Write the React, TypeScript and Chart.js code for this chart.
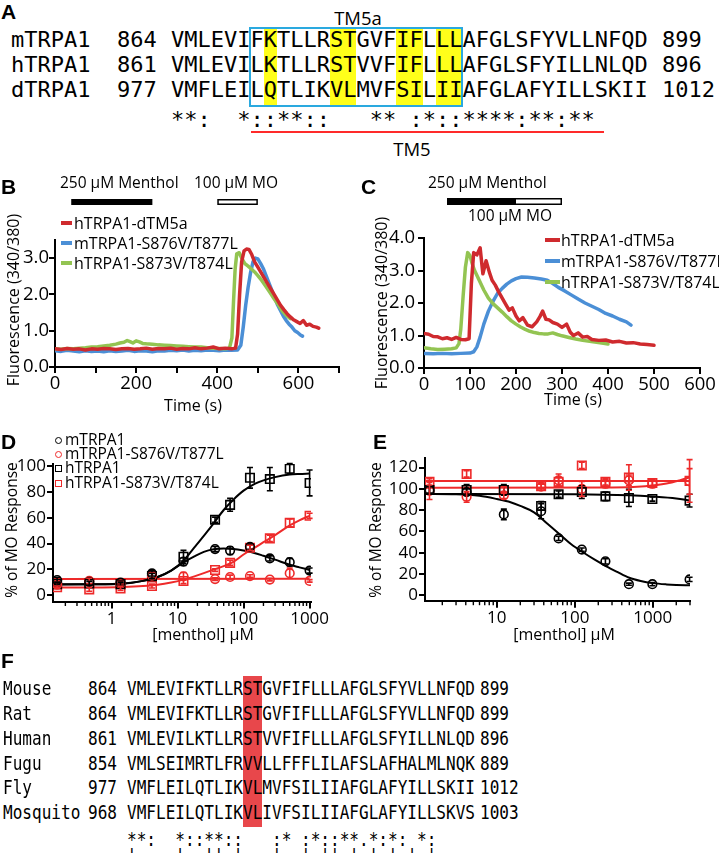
import React, { useEffect, useRef } from "react";
import { Chart, registerables } from "chart.js";
Chart.register(...registerables);

const SANS = "'Open Sans', 'Liberation Sans', sans-serif";
const MONO = "'DejaVu Sans Mono', 'Liberation Mono', monospace";
const BOLD = "'Liberation Sans', Arial, sans-serif";

const RED_T = "#cf2a2e";
const BLUE_T = "#4b8fd6";
const GREEN_T = "#93c452";
const RED_D = "#ee2a2a";
const BLACK = "#000000";

// ---------------- Panel A (alignment) ----------------
const aNames = ["mTRPA1", "hTRPA1", "dTRPA1"];
const aStart = ["864", "861", "977"];
const aSeqs = [
  "VMLEVIFKTLLRSTGVFIFLLLAFGLSFYVLLNFQD",
  "VMLEVILKTLLRSTVVFIFLLLAFGLSFYILLNLQD",
  "VMFLEILQTLIKVLMVFSILIIAFGLAFYILLSKII",
];
const aEnd = ["899", "896", "1012"];
const aCons = "**:  *::**::   ** :*::****:**:**";
const aYellow = [7, 12, 13, 17, 18, 20, 21];

// ---------------- Panel F (alignment) ----------------
const fNames = ["Mouse", "Rat", "Human", "Fugu", "Fly", "Mosquito"];
const fStart = ["864", "864", "861", "854", "977", "968"];
const fSeqs = [
  "VMLEVIFKTLLRSTGVFIFLLLAFGLSFYVLLNFQD",
  "VMLEVIFKTLLRSTGVFIFLLLAFGLSFYVLLNFQD",
  "VMLEVILKTLLRSTVVFIFLLLAFGLSFYILLNLQD",
  "VMLSEIMRTLFRVVLLFFFLILAFSLAFHALMLNQK",
  "VMFLEILQTLIKVLMVFSILIIAFGLAFYILLSKII",
  "VMFLEILQTLIKVLIVFSILIIAFGLAFYILLSKVS",
];
const fEnd = ["899", "899", "896", "889", "1012", "1003"];
const fCons = "**:  *::**::   :* :*::**.*:*: *:";
const fMarks = "|    |  || |   |  | || | | | | |";
const fRed = [12, 13];

// ---------------- Panel B (traces) ----------------
const bRedT = [0,15,30,45,60,75,90,105,120,135,150,165,180,195,210,225,240,255,270,285,300,315,330,345,360,375,390,405,420,435,445,450,455,460,466,472,478,485,492,500,508,516,524,532,540,548,556,564,572,580,588,596,604,612,620,628,636,644,650];
const bRedY = [0.50,0.48,0.51,0.49,0.50,0.47,0.50,0.49,0.51,0.50,0.48,0.50,0.51,0.49,0.50,0.52,0.49,0.51,0.50,0.52,0.49,0.51,0.50,0.53,0.50,0.52,0.55,0.50,0.52,0.50,0.52,0.9,2.0,2.9,3.2,3.25,3.24,3.1,2.9,2.75,2.6,2.45,2.3,2.15,2.0,1.85,1.7,1.58,1.47,1.38,1.30,1.25,1.20,1.28,1.15,1.18,1.12,1.10,1.07];
const bBlueT = [0,15,30,45,60,75,90,105,120,135,150,165,180,195,210,225,240,255,270,285,300,315,330,345,360,375,390,405,420,435,450,458,464,470,476,482,488,494,500,507,514,521,528,535,542,549,556,563,570,577,584,591,598,605,610];
const bBlueY = [0.45,0.43,0.46,0.44,0.42,0.45,0.43,0.44,0.42,0.45,0.43,0.44,0.46,0.43,0.45,0.44,0.42,0.45,0.44,0.46,0.45,0.47,0.44,0.46,0.45,0.47,0.46,0.45,0.47,0.46,0.47,0.6,1.1,1.7,2.2,2.6,2.9,3.0,2.98,2.85,2.7,2.5,2.3,2.1,1.9,1.7,1.55,1.4,1.28,1.18,1.1,1.0,0.95,0.88,0.85];
const bGreenT = [0,15,30,45,60,75,90,105,120,135,150,160,170,178,185,192,200,208,216,225,240,255,270,285,300,315,330,345,360,375,390,405,420,430,436,440,444,448,454,460,468,476,484,492,500,510,520,530,540,550,560,570,580];
const bGreenY = [0.50,0.49,0.51,0.50,0.52,0.53,0.55,0.56,0.58,0.60,0.63,0.66,0.68,0.73,0.70,0.66,0.72,0.69,0.65,0.64,0.63,0.61,0.60,0.59,0.58,0.57,0.56,0.55,0.55,0.53,0.52,0.51,0.50,0.52,0.8,1.8,2.7,3.12,3.15,3.0,2.85,2.78,2.7,2.62,2.52,2.38,2.22,2.05,1.88,1.72,1.55,1.42,1.33];
const bXTicks = [0, 100, 200, 300, 400, 500, 600, 700];
const bXLabels = [0, 200, 400, 600];
const bYTicks = [0, 1, 2, 3];
const bMenthol = [40, 240];
const bMO = [400, 500];

// ---------------- Panel C (traces) ----------------
const cRedT = [0,10,20,30,40,50,60,70,80,90,98,103,108,115,122,128,135,142,148,155,162,170,178,185,192,200,207,215,225,235,245,252,258,265,272,280,290,300,310,318,325,335,345,355,365,380,395,410,425,440,455,470,485,500];
const cRedY = [1.06,1.04,0.97,0.96,0.90,0.93,0.88,0.94,0.88,0.87,0.90,2.60,3.55,3.48,3.70,2.90,3.30,2.95,2.70,2.55,2.35,2.15,1.95,1.78,1.85,1.60,1.45,1.55,1.32,1.27,1.42,1.58,1.75,1.50,1.48,1.40,1.35,1.25,1.35,1.10,1.00,1.08,0.95,0.97,0.88,0.85,0.86,0.80,0.82,0.77,0.78,0.74,0.72,0.70];
const cGreenT = [0,15,30,45,60,70,76,80,85,90,95,100,105,110,120,130,140,150,160,170,180,190,200,210,220,230,240,250,260,270,280,290,300,315,330,345,360,375,390,400];
const cGreenY = [0.62,0.59,0.57,0.58,0.59,0.62,0.75,1.2,2.2,3.1,3.55,3.45,3.2,3.0,2.7,2.4,2.15,1.98,1.85,1.72,1.58,1.45,1.35,1.26,1.19,1.13,1.09,1.06,1.05,1.05,1.08,1.03,0.99,0.94,0.89,0.85,0.82,0.79,0.76,0.74];
const cBlueT = [0,20,40,60,80,100,108,115,122,130,140,150,160,170,180,190,200,212,225,240,255,268,280,292,305,320,335,350,365,380,395,410,425,440,450];
const cBlueY = [0.45,0.44,0.45,0.44,0.45,0.46,0.5,0.65,0.95,1.35,1.75,2.05,2.3,2.45,2.58,2.68,2.75,2.8,2.79,2.77,2.74,2.7,2.6,2.48,2.38,2.25,2.12,2.0,1.9,1.8,1.68,1.6,1.5,1.42,1.32];
const cXTicks = [0, 100, 200, 300, 400, 500, 600];
const cXLabels = [0, 100, 200, 300, 400, 500, 600];
const cYTicks = [0, 1, 2, 3, 4];
const cMO = [50, 300];
const cMenthol = [50, 200];

// ---------------- Panel D (dose response, potentiation) ----------------
const dConc = [0.15, 0.46, 1.37, 4.1, 12.3, 37, 62.5, 125, 250, 500, 1000];
const dM = [11.6, 10.3, 9.6, 16.8, 26, 35.7, 34.5, 37.5, 28.4, 25.5, 19];
const dMErr = [2, 1.5, 1.5, 2, 3, 2, 3, 2, 2, 3, 2];
const dMmut = [8, 11, 9, 15, 14.5, 12.4, 14, 14.7, 12, 17, 11];
const dMmutErr = [2, 2, 1.5, 2, 3, 1, 1.5, 1, 1, 4, 1];
const dH = [8.5, 9, 8.5, 14.7, 29.7, 58.5, 70, 91, 90, 98, 87];
const dHErr = [1.5, 1.5, 1.5, 2, 5, 2, 5, 8, 9, 4, 10];
const dHmut = [6, 4.4, 5.2, 7, 10.9, 19.4, 25, 36.7, 44, 56, 61.5];
const dHmutErr = [1, 1.5, 1.5, 1.5, 2, 1, 2, 2, 2.5, 3, 2];
const dFitX = [0.13, 0.5, 1.5, 3, 5, 8, 12, 18, 25, 35, 50, 70, 100, 150, 200, 300, 500, 700, 1000];
const dFitH = [8.2, 8.3, 8.8, 11, 14, 19, 26, 37, 46, 55.5, 66, 74, 81, 86.5, 89, 91.5, 93.5, 94, 94.3];
const dFitM = [8.3, 8.4, 9, 11, 14, 19, 25, 30, 33.5, 35.5, 36.2, 35.8, 34.5, 32.5, 30.5, 27.5, 23.5, 21.5, 19.5];
const dFitHmut = [5.8, 5.9, 6.3, 7, 8, 9.7, 11.8, 14.5, 17, 19.7, 22.5, 25.8, 31.5, 37, 41, 46.5, 54, 58, 61.5];
const dFitMmutX = [0.13, 1000];
const dFitMmut = [12.4, 12.6];
const dXLabels = [1, 10, 100, 1000];
const dXDecades = [0.1, 1, 10, 100, 1000];
const dYTicks = [0, 20, 40, 60, 80, 100];

// ---------------- Panel E (dose response, inhibition) ----------------
const eConc = [1.37, 4.1, 12.3, 37, 62, 123, 247, 494, 988, 2963];
const eM = [99, 97, 76, 79, 53.5, 43, 32, 10.5, 10.5, 15];
const eMErr = [3, 3, 5, 7, 2, 1.5, 2.5, 1, 1.5, 2];
const eH = [99, 99, 99, 84, 95, 97, 93, 91.5, 90.5, 89];
const eHErr = [4, 5, 5, 4, 3, 6, 4, 8, 2, 6];
const eMmut = [98, 92.5, 94, 102, 108, 100, 105, 108, 105, 107];
const eMmutErr = [8, 5, 3, 3, 6, 7, 4, 5, 4, 12];
const eHmut = [106.6, 114, 99, 102.5, 106.6, 122, 106.6, 110.7, 105.6, 107.5];
const eHmutErr = [3, 3, 3, 2, 4, 3, 3, 12, 3, 20];
const eFitX = [1.2, 3, 6, 10, 15, 20, 30, 45, 65, 90, 130, 180, 250, 350, 500, 700, 1000, 1500, 2000, 3000];
const eFitM = [95.3, 95, 93.5, 90.5, 87.5, 84, 78, 67, 57, 48, 40, 33.5, 27.5, 22, 16.5, 13.5, 11.5, 10.3, 9.8, 9.5];
const eFitHX = [1.2, 100, 500, 1000, 2000, 3000];
const eFitH = [95.3, 95, 94, 92.8, 91, 89];
const eFitMmutX = [1.2, 300, 800, 1500, 2200, 3000];
const eFitMmut = [101, 101.2, 102.5, 105, 108, 111];
const eFitHmutX = [1.2, 3000];
const eFitHmut = [107.5, 107.5];
const eXLabels = [10, 100, 1000];
const eXDecades = [1, 10, 100, 1000];
const eYTicks = [0, 20, 40, 60, 80, 100, 120];

// ---------------- helpers ----------------
const zip = (xs: number[], ys: number[]) => xs.map((x, i) => ({ x, y: ys[i] }));
const minorTicks = (decades: number[], min: number, max: number) => {
  const out: number[] = [];
  decades.forEach((d) => {
    for (let m = 1; m <= 9; m++) {
      const v = +(d * m).toPrecision(6);
      if (v >= min && v <= max) out.push(v);
    }
  });
  return out;
};

const errorBarPlugin = {
  id: "errorBars",
  afterDatasetsDraw(chart: any) {
    const ctx = chart.ctx;
    const xs = chart.scales.x;
    const ys = chart.scales.y;
    chart.data.datasets.forEach((ds: any) => {
      if (!ds.errors) return;
      ctx.save();
      ctx.strokeStyle = ds.borderColor;
      ctx.lineWidth = 1.6;
      ds.data.forEach((p: any, i: number) => {
        const e = ds.errors[i];
        if (!e) return;
        const px = xs.getPixelForValue(p.x);
        const y1 = ys.getPixelForValue(p.y + e);
        const y2 = ys.getPixelForValue(p.y - e);
        ctx.beginPath();
        ctx.moveTo(px, y1);
        ctx.lineTo(px, y2);
        ctx.moveTo(px - 3, y1);
        ctx.lineTo(px + 3, y1);
        ctx.moveTo(px - 3, y2);
        ctx.lineTo(px + 3, y2);
        ctx.stroke();
      });
      ctx.restore();
    });
  },
};

const minorTickPlugin = {
  id: "minorTicks",
  afterDraw(chart: any) {
    const s = chart.scales.x;
    const ctx = chart.ctx;
    const b = chart.chartArea.bottom;
    ctx.save();
    ctx.strokeStyle = "#000";
    ctx.lineWidth = 1.4;
    s.ticks.forEach((t: any) => {
      if (t.major) return;
      const px = s.getPixelForValue(t.value);
      ctx.beginPath();
      ctx.moveTo(px, b);
      ctx.lineTo(px, b + 4.5);
      ctx.stroke();
    });
    ctx.restore();
  },
};

const makeStimPlugin = (bars: { range: number[]; fill: boolean }[], y: number, h: number) => ({
  id: "stim",
  afterDraw(chart: any) {
    const s = chart.scales.x;
    const ctx = chart.ctx;
    ctx.save();
    bars.forEach((b) => {
      const x1 = s.getPixelForValue(b.range[0]);
      const x2 = s.getPixelForValue(b.range[1]);
      if (b.fill) {
        ctx.fillStyle = "#000";
        ctx.fillRect(x1, y, x2 - x1, h);
      } else {
        ctx.fillStyle = "#fff";
        ctx.fillRect(x1, y, x2 - x1, h);
        ctx.strokeStyle = "#000";
        ctx.lineWidth = 1.5;
        ctx.strokeRect(x1 + 0.75, y + 0.75, x2 - x1 - 1.5, h - 1.5);
      }
    });
    ctx.restore();
  },
});

const baseOpts = (padTop: number, padRight: number) => ({
  animation: false,
  responsive: false,
  maintainAspectRatio: false,
  devicePixelRatio: 1,
  events: [],
  layout: { padding: { left: 0, top: padTop, right: padRight, bottom: 0 } },
  plugins: { legend: { display: false }, tooltip: { enabled: false } },
});

function traceConfig(series: any[], o: any) {
  return {
    type: "line",
    data: {
      datasets: series.map((s) => ({
        data: zip(s.t, s.v),
        borderColor: s.c,
        borderWidth: 3.5,
        pointRadius: 0,
        tension: 0,
        fill: false,
        borderJoinStyle: "round",
        borderCapStyle: "round",
      })),
    },
    options: {
      ...baseOpts(o.padTop, o.padRight),
      scales: {
        x: {
          type: "linear",
          min: o.xMin,
          max: o.xMax,
          afterBuildTicks: (s: any) => {
            s.ticks = o.xTicks.map((v: number) => ({ value: v }));
          },
          afterFit: (s: any) => {
            s.height = o.xHeight;
          },
          ticks: {
            autoSkip: false,
            maxRotation: 0,
            padding: 0,
            color: "#000",
            font: { family: SANS, size: 18.5 },
            callback: (v: any) => (o.xLabels.includes(v) ? String(v) : ""),
          },
          grid: { drawOnChartArea: false, tickLength: 6, color: "#000", lineWidth: 2 },
          border: { color: "#000", width: 2 },
        },
        y: {
          type: "linear",
          min: 0,
          max: o.yMax,
          afterBuildTicks: (s: any) => {
            s.ticks = o.yTicks.map((v: number) => ({ value: v }));
          },
          afterFit: (s: any) => {
            s.width = o.yWidth;
          },
          ticks: {
            padding: o.yPad,
            color: "#000",
            font: { family: SANS, size: 18.5 },
            callback: (v: any) => Number(v).toFixed(1),
          },
          grid: { drawOnChartArea: false, tickLength: 6, color: "#000", lineWidth: 2 },
          border: { color: "#000", width: 2 },
        },
      },
    },
    plugins: [makeStimPlugin(o.bars, o.barY, o.barH)],
  };
}

function doseConfig(o: any) {
  const datasets: any[] = [];
  o.points.forEach((p: any) =>
    datasets.push({
      data: zip(o.conc, p.y),
      errors: p.e,
      showLine: false,
      borderColor: p.c,
      backgroundColor: "rgba(0,0,0,0)",
      pointStyle: p.shape,
      pointRadius: p.shape === "rect" ? 6 : 4.3,
      pointBorderWidth: 1.6,
      pointBorderColor: p.c,
      pointBackgroundColor: "rgba(0,0,0,0)",
    })
  );
  o.fits.forEach((f: any) =>
    datasets.push({
      data: zip(f.x, f.y),
      borderColor: f.c,
      borderWidth: 2,
      pointRadius: 0,
      cubicInterpolationMode: "monotone",
      fill: false,
    })
  );
  const xTicks = minorTicks(o.decades, o.xMin, o.xMax);
  return {
    type: "line",
    data: { datasets },
    options: {
      ...baseOpts(o.padTop, o.padRight),
      scales: {
        x: {
          type: "logarithmic",
          min: o.xMin,
          max: o.xMax,
          afterBuildTicks: (s: any) => {
            s.ticks = xTicks.map((v) => ({ value: v, major: o.xLabels.includes(v) }));
          },
          afterFit: (s: any) => {
            s.height = o.xHeight;
          },
          ticks: {
            autoSkip: false,
            maxRotation: 0,
            padding: 0,
            color: "#000",
            font: { family: SANS, size: 17 },
            callback: (v: any) => (o.xLabels.includes(v) ? String(v) : ""),
          },
          grid: {
            drawOnChartArea: false,
            tickLength: 7,
            lineWidth: 2,
            tickColor: (ctx: any) => (ctx.tick && ctx.tick.major ? "#000" : "rgba(0,0,0,0)"),
          },
          border: { color: "#000", width: 2 },
        },
        y: {
          type: "linear",
          min: o.yMin,
          max: o.yMax,
          afterBuildTicks: (s: any) => {
            s.ticks = o.yTicks.map((v: number) => ({ value: v }));
          },
          afterFit: (s: any) => {
            s.width = o.yWidth;
          },
          ticks: {
            padding: 1,
            color: "#000",
            font: { family: SANS, size: 17 },
            callback: (v: any) => String(v),
          },
          grid: { drawOnChartArea: false, tickLength: 6, color: "#000", lineWidth: 2 },
          border: { color: "#000", width: 2 },
        },
      },
    },
    plugins: [errorBarPlugin, minorTickPlugin],
  };
}

function ChartCanvas({ left, top, width, height, make }: any) {
  const ref = useRef<HTMLCanvasElement>(null);
  useEffect(() => {
    const chart = new Chart(ref.current as HTMLCanvasElement, make());
    return () => chart.destroy();
  }, []);
  return (
    <canvas
      ref={ref}
      width={width}
      height={height}
      style={{ position: "absolute", left, top, width, height }}
    />
  );
}

function T({ x, y, children, size = 15.5, family = SANS, weight = 400, align = "left", rotate = false, sx }: any) {
  const ax = align === "center" ? "-50%" : align === "right" ? "-100%" : "0%";
  let transform = rotate ? "translate(-50%,-50%) rotate(-90deg)" : `translate(${ax},-50%)`;
  const origin = rotate ? "50% 50%" : align === "left" ? "0% 50%" : "50% 50%";
  if (sx) transform += ` scaleX(${sx})`;
  return (
    <div
      style={{
        position: "absolute",
        left: x,
        top: y,
        fontSize: size,
        fontFamily: family,
        fontWeight: weight,
        lineHeight: 1,
        whiteSpace: "pre",
        color: "#000",
        transform,
        transformOrigin: origin,
      }}
    >
      {children}
    </div>
  );
}

const Box = ({ l, t, w, h, bg, border }: any) => (
  <div style={{ position: "absolute", left: l, top: t, width: w, height: h, background: bg || "transparent", border: border || "none", boxSizing: "border-box" }} />
);

export default function App() {
  // Panel A geometry
  const aSeqX = 171;
  const aCw = 13.246;
  const aRowsY = [40, 65, 90];
  // Panel F geometry
  const fSeqX = 127;
  const fCw = 9.667;
  const fSx = 0.845;
  const fRowsY = [688, 713, 738, 763, 787, 812];

  const makeB = () =>
    traceConfig(
      [
        { t: bRedT, v: bRedY, c: RED_T },
        { t: bGreenT, v: bGreenY, c: GREEN_T },
        { t: bBlueT, v: bBlueY, c: BLUE_T },
      ],
      {
        padTop: 70, padRight: 21, xHeight: 53, yWidth: 55, yPad: 0,
        xMin: 0, xMax: 700, xTicks: bXTicks, xLabels: bXLabels,
        yMax: 3.5, yTicks: bYTicks,
        bars: [{ range: bMenthol, fill: true }, { range: bMO, fill: false }],
        barY: 29, barH: 6,
      }
    );
  const makeC = () =>
    traceConfig(
      [
        { t: cRedT, v: cRedY, c: RED_T },
        { t: cGreenT, v: cGreenY, c: GREEN_T },
        { t: cBlueT, v: cBlueY, c: BLUE_T },
      ],
      {
        padTop: 68, padRight: 19, xHeight: 52, yWidth: 64, yPad: 3,
        xMin: 0, xMax: 600, xTicks: cXTicks, xLabels: cXLabels,
        yMax: 4, yTicks: cYTicks,
        bars: [{ range: cMO, fill: false }, { range: cMenthol, fill: true }],
        barY: 28, barH: 7,
      }
    );
  const makeD = () =>
    doseConfig({
      padTop: 44, padRight: 49, xHeight: 48.5, yWidth: 53,
      xMin: 0.13, xMax: 1050, decades: dXDecades, xLabels: dXLabels,
      yMin: -5, yMax: 101.7, yTicks: dYTicks,
      conc: dConc,
      points: [
        { y: dM, e: dMErr, c: BLACK, shape: "circle" },
        { y: dMmut, e: dMmutErr, c: RED_D, shape: "circle" },
        { y: dH, e: dHErr, c: BLACK, shape: "rect" },
        { y: dHmut, e: dHmutErr, c: RED_D, shape: "rect" },
      ],
      fits: [
        { x: dFitX, y: dFitH, c: BLACK },
        { x: dFitX, y: dFitM, c: BLACK },
        { x: dFitX, y: dFitHmut, c: RED_D },
        { x: dFitMmutX, y: dFitMmut, c: RED_D },
      ],
    });
  const makeE = () =>
    doseConfig({
      padTop: 38, padRight: 29, xHeight: 49.3, yWidth: 65,
      xMin: 1.2, xMax: 3000, decades: eXDecades, xLabels: eXLabels,
      yMin: -5, yMax: 129, yTicks: eYTicks,
      conc: eConc,
      points: [
        { y: eM, e: eMErr, c: BLACK, shape: "circle" },
        { y: eH, e: eHErr, c: BLACK, shape: "rect" },
        { y: eMmut, e: eMmutErr, c: RED_D, shape: "circle" },
        { y: eHmut, e: eHmutErr, c: RED_D, shape: "rect" },
      ],
      fits: [
        { x: eFitX, y: eFitM, c: BLACK },
        { x: eFitHX, y: eFitH, c: BLACK },
        { x: eFitMmutX, y: eFitMmut, c: RED_D },
        { x: eFitHmutX, y: eFitHmut, c: RED_D },
      ],
    });

  const legendTrace = [
    { label: "hTRPA1-dTM5a", c: RED_T },
    { label: "mTRPA1-S876V/T877L", c: BLUE_T },
    { label: "hTRPA1-S873V/T874L", c: GREEN_T },
  ];
  const legendD = [
    { label: "mTRPA1", c: BLACK, round: true },
    { label: "mTRPA1-S876V/T877L", c: RED_D, round: true },
    { label: "hTRPA1", c: BLACK, round: false },
    { label: "hTRPA1-S873V/T874L", c: RED_D, round: false },
  ];
  const bLegY = [223, 243, 263];
  const cLegY = [240, 261, 282];
  const dLegY = [440, 454, 468, 483];

  return (
    <div style={{ position: "absolute", left: 0, top: 0, width: 719, height: 853, overflow: "hidden", background: "#fff" }}>
      {/* ---------- Panel A ---------- */}
      {aYellow.map((i) => (
        <Box key={"y" + i} l={aSeqX + i * aCw} t={28} w={aCw} h={78} bg="#ffff1a" />
      ))}
      <Box l={aSeqX + 6 * aCw - 1} t={27} w={16 * aCw + 2} h={80} border="2px solid #2aa9df" />
      {aNames.map((n, r) => (
        <React.Fragment key={"a" + r}>
          <T x={11} y={aRowsY[r]} size={22} family={MONO}>{n}</T>
          <T x={117} y={aRowsY[r]} size={22} family={MONO}>{aStart[r]}</T>
          <T x={aSeqX} y={aRowsY[r]} size={22} family={MONO}>{aSeqs[r]}</T>
          <T x={662} y={aRowsY[r]} size={22} family={MONO}>{aEnd[r]}</T>
        </React.Fragment>
      ))}
      <T x={aSeqX} y={120} size={22} family={MONO}>{aCons}</T>
      <Box l={251} t={131} w={353} h={2} bg="#ff2a2a" />
      <T x={358} y={18} size={18.5} align="center">TM5a</T>
      <T x={412} y={149} size={18.5} align="center">TM5</T>

      {/* ---------- Charts ---------- */}
      <ChartCanvas left={0} top={170} width={360} height={250} make={makeB} />
      <ChartCanvas left={360} top={170} width={359} height={250} make={makeC} />
      <ChartCanvas left={0} top={420} width={360} height={230} make={makeD} />
      <ChartCanvas left={360} top={420} width={359} height={230} make={makeE} />

      {/* ---------- Panel B text ---------- */}
      <T x={60} y={183}>250 µM Menthol</T>
      <T x={236} y={183} align="center">100 µM MO</T>
      {legendTrace.map((l, i) => (
        <React.Fragment key={"bl" + i}>
          <Box l={61} t={bLegY[i] - 2} w={11} h={4} bg={l.c} />
          <T x={74} y={bLegY[i]} size={16}>{l.label}</T>
        </React.Fragment>
      ))}
      <T x={13} y={300} size={16} rotate>Fluorescence (340/380)</T>
      <T x={193} y={405} size={16} align="center">Time (s)</T>

      {/* ---------- Panel C text ---------- */}
      <T x={428} y={183}>250 µM Menthol</T>
      <T x={510} y={216} align="center">100 µM MO</T>
      {legendTrace.map((l, i) => (
        <React.Fragment key={"cl" + i}>
          <Box l={545} t={cLegY[i] - 2} w={15} h={4} bg={l.c} />
          <T x={561} y={cLegY[i]} size={16}>{l.label}</T>
        </React.Fragment>
      ))}
      <T x={381} y={303} size={16} rotate>Fluorescence (340/380)</T>
      <T x={573} y={399} size={16} align="center">Time (s)</T>

      {/* ---------- Panel D text ---------- */}
      {legendD.map((l, i) => (
        <React.Fragment key={"dl" + i}>
          <div
            style={{
              position: "absolute",
              left: 54.5,
              top: dLegY[i] - 3.5,
              width: 7,
              height: 7,
              border: `1.5px solid ${l.c}`,
              borderRadius: l.round ? "50%" : 0,
              boxSizing: "border-box",
            }}
          />
          <T x={65} y={dLegY[i]} size={15.5}>{l.label}</T>
        </React.Fragment>
      ))}
      <T x={12} y={530} size={15.5} rotate>% of MO Response</T>
      <T x={203} y={634} size={16} align="center">[menthol] µM</T>

      {/* ---------- Panel E text ---------- */}
      <T x={376} y={530} size={15.5} rotate>% of MO Response</T>
      <T x={564} y={634} size={16} align="center">[menthol] µM</T>

      {/* ---------- Panel F ---------- */}
      <Box l={fSeqX + fRed[0] * fCw} t={676} w={fCw * fRed.length} h={151} bg="#e8474b" />
      {fNames.map((n, r) => (
        <React.Fragment key={"f" + r}>
          <T x={3} y={fRowsY[r]} size={19} family={MONO} sx={fSx}>{n}</T>
          <T x={88} y={fRowsY[r]} size={19} family={MONO} sx={fSx}>{fStart[r]}</T>
          <T x={fSeqX} y={fRowsY[r]} size={19} family={MONO} sx={fSx}>{fSeqs[r]}</T>
          <T x={480} y={fRowsY[r]} size={19} family={MONO} sx={fSx}>{fEnd[r]}</T>
        </React.Fragment>
      ))}
      <T x={fSeqX} y={839} size={19} family={MONO} sx={fSx}>{fCons}</T>
      <div
        style={{
          position: "absolute", left: fSeqX, top: 847, fontSize: 19, fontFamily: MONO, lineHeight: 1,
          whiteSpace: "pre", transform: `scaleX(${fSx})`, transformOrigin: "0 0",
        }}
      >
        {fMarks}
      </div>

      {/* ---------- Panel letters ---------- */}
      <T x={1} y={11} size={21} family={BOLD} weight={700}>A</T>
      <T x={1} y={186} size={21} family={BOLD} weight={700}>B</T>
      <T x={361} y={186} size={21} family={BOLD} weight={700}>C</T>
      <T x={1} y={441} size={21} family={BOLD} weight={700}>D</T>
      <T x={373} y={441} size={21} family={BOLD} weight={700}>E</T>
      <T x={1} y={660} size={21} family={BOLD} weight={700}>F</T>
    </div>
  );
}
